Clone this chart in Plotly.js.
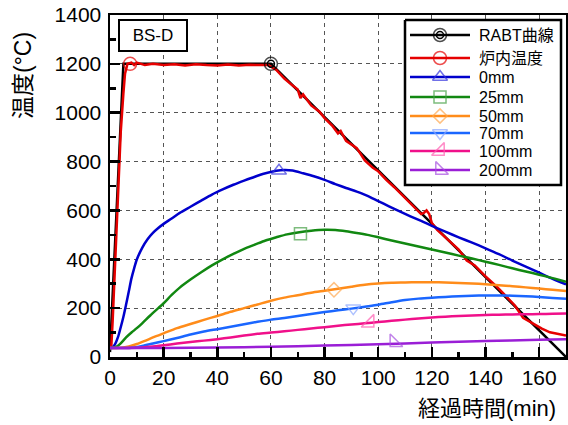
<!DOCTYPE html>
<html><head><meta charset="utf-8">
<script src="https://cdn.plot.ly/plotly-3.0.1.min.js"></script>
<style>html,body{margin:0;padding:0;background:#fff}#chart{width:568px;height:425px}</style>
</head><body><div id="chart"></div>
<script>
// ---- data ----
const seriesNames = ["RABT曲線", "炉内温度", "0mm", "25mm", "50mm", "70mm", "100mm", "200mm"];
const colors = ["#000000", "#e60000", "#0000cc", "#118811", "#ff8c1a", "#1a66ff", "#f0108a", "#9a1ed6"];
const markerColors = ["#000000", "#e60000", "#3333dd", "#46a046", "#ffa64d", "#8aa6ff", "#ff5cb0", "#a64ee0"];
const symbols = ["circle-open", "circle-open", "triangle-up-open", "square-open", "diamond-open", "triangle-down-open", "triangle-se-open", "triangle-sw-open"];

const tRABT = [0, 5, 60, 170];
const vRABT = [20, 1200, 1200, 0];

const tFurnace = [0, 0.5, 1, 2, 3, 4, 5, 5.6, 6.5, 8, 9, 10, 13, 16, 20, 24, 28, 32, 36, 40, 44, 48, 52, 56, 59, 62, 65, 68, 70, 71, 72, 75, 78, 80, 83, 85, 86, 88, 90, 92, 95, 98, 100, 103, 106, 110, 113, 116, 117, 118, 119, 120, 122, 125, 128, 130, 133, 136, 140, 144, 148, 151, 154, 157, 159, 161, 164, 167, 170];
const vFurnace = [38, 45, 150, 420, 700, 920, 1080, 1160, 1200, 1205, 1195, 1205, 1195, 1200, 1195, 1198, 1193, 1198, 1195, 1193, 1197, 1193, 1196, 1195, 1195, 1175, 1140, 1112, 1095, 1060, 1075, 1030, 1005, 978, 945, 915, 925, 885, 870, 855, 805, 775, 760, 725, 695, 650, 615, 585, 590, 600, 585, 548, 520, 490, 462, 440, 395, 375, 330, 290, 245, 210, 160, 140, 126, 116, 101, 94, 88];

const t0mm = [0, 1, 2, 3, 4, 5, 6, 7, 8, 9, 10, 12, 14, 16, 18, 20, 23, 26, 30, 34, 38, 42, 46, 50, 54, 58, 62, 65, 68, 72, 76, 80, 84, 88, 92, 96, 100, 104, 108, 112, 116, 120, 125, 130, 135, 140, 145, 150, 155, 160, 165, 170];
const v0mm = [37, 40, 55, 82, 122, 165, 215, 268, 322, 363, 399, 447, 482, 508, 528, 545, 567, 590, 615, 640, 665, 686, 705, 722, 738, 752, 762, 765, 763, 752, 740, 725, 708, 692, 677, 660, 638, 617, 596, 576, 557, 537, 513, 490, 468, 445, 421, 395, 370, 345, 320, 297];

const t25mm = [0, 2, 3, 4, 6, 8, 10, 12, 15, 18, 20, 23, 26, 30, 34, 38, 42, 46, 50, 54, 58, 62, 66, 70, 75, 80, 84, 88, 92, 96, 100, 105, 110, 115, 120, 125, 130, 135, 140, 145, 150, 155, 160, 165, 170];
const v25mm = [37, 40, 46, 56, 80, 100, 118, 138, 170, 200, 220, 254, 284, 317, 347, 375, 400, 422, 443, 460, 477, 490, 502, 510, 517, 521, 520, 515, 508, 500, 490, 477, 465, 452, 440, 428, 415, 403, 390, 377, 363, 350, 337, 323, 308];

const t50mm = [0, 4, 7, 10, 13, 16, 20, 25, 30, 35, 40, 45, 50, 55, 60, 65, 70, 75, 80, 85, 90, 95, 100, 105, 110, 115, 120, 125, 130, 135, 140, 145, 150, 155, 160, 165, 170];
const v50mm = [37, 38, 43, 53, 66, 80, 97, 118, 135, 152, 168, 185, 200, 215, 230, 243, 253, 263, 271, 279, 288, 296, 301, 304, 305, 306, 306, 305, 303, 301, 298, 294, 290, 285, 280, 275, 270];

const t70mm = [0, 8, 12, 16, 20, 25, 30, 35, 40, 45, 50, 55, 60, 65, 70, 75, 80, 85, 90, 95, 100, 105, 110, 115, 120, 125, 130, 135, 140, 145, 150, 155, 160, 165, 170];
const v70mm = [37, 38, 45, 55, 65, 78, 92, 104, 114, 124, 134, 144, 153, 160, 168, 176, 184, 191, 198, 206, 214, 224, 233, 239, 243, 246, 249, 251, 252, 252, 251, 249, 246, 242, 238];

const t100mm = [0, 10, 15, 20, 25, 30, 35, 40, 45, 50, 55, 60, 65, 70, 75, 80, 85, 90, 95, 100, 105, 110, 115, 120, 125, 130, 135, 140, 145, 150, 155, 160, 165, 170];
const v100mm = [37, 38, 42, 48, 55, 61, 67, 73, 80, 88, 95, 100, 105, 111, 117, 122, 128, 133, 138, 143, 148, 153, 158, 162, 165, 168, 170, 172, 173, 174, 175, 176, 177, 178];

const t200mm = [0, 20, 40, 60, 80, 100, 120, 140, 160, 170];
const v200mm = [37, 37, 39, 42, 47, 52, 59, 65, 71, 73];

// one marker per series
const markerT = [60, 7.5, 63, 71, 83.5, 90.7, 96.8, 106];
const markerV = [1200, 1200, 762, 505, 275, 200, 140, 60];
const markerSizes = [13, 13, 13, 12, 11, 13, 14, 14];

const xTickVals = [0, 20, 40, 60, 80, 100, 120, 140, 160];
const yTickVals = [0, 200, 400, 600, 800, 1000, 1200, 1400];

// ---- layout constants (page pixels) ----
const plotL = 110, plotR = 566, plotT = 15, plotB = 357;
const legBox = {x0: 405, x1: 561, y0: 20, y1: 185};
const legRows = [35, 58, 77, 97, 116, 133, 151, 170];
const legLineX = [410, 470], legMarkX = 440, legTextX = 477;

// ---- traces ----
const lineT = [tRABT, tFurnace, t0mm, t25mm, t50mm, t70mm, t100mm, t200mm];
const lineV = [vRABT, vFurnace, v0mm, v25mm, v50mm, v70mm, v100mm, v200mm];
const traces = [];
for (let i = 0; i < seriesNames.length; i++) {
  const smooth = i >= 2;
  traces.push({
    x: lineT[i], y: lineV[i], mode: "lines", type: "scatter", name: seriesNames[i],
    line: smooth ? {color: colors[i], width: 2.5, shape: "spline", smoothing: 0.8} : {color: colors[i], width: 2.5},
    hoverinfo: "skip"
  });
}
traces.push({
  x: markerT, y: markerV, mode: "markers", type: "scatter",
  marker: {symbol: symbols, size: markerSizes, color: markerColors, line: {width: 1.5, color: markerColors}}
});
// inner ring of the RABT double-circle marker
traces.push({
  x: [markerT[0]], y: [markerV[0]], mode: "markers", type: "scatter",
  marker: {symbol: "circle-open", size: 7, color: markerColors[0], line: {width: 1.5, color: markerColors[0]}}
});

// ---- legend drawn on an invisible pixel-space overlay ----
traces.push({
  x: [legBox.x0, legBox.x1, legBox.x1, legBox.x0, legBox.x0],
  y: [legBox.y0, legBox.y0, legBox.y1, legBox.y1, legBox.y0],
  xaxis: "x2", yaxis: "y2", mode: "lines", fill: "toself", fillcolor: "#fff",
  line: {color: "#000", width: 2.5}, hoverinfo: "skip"
});
for (let i = 0; i < seriesNames.length; i++) {
  traces.push({
    x: legLineX, y: [legRows[i], legRows[i]], xaxis: "x2", yaxis: "y2", mode: "lines",
    line: {color: colors[i], width: 2.5}, hoverinfo: "skip"
  });
}
traces.push({
  x: legRows.map(() => legMarkX), y: legRows, xaxis: "x2", yaxis: "y2", mode: "markers",
  marker: {symbol: symbols, size: markerSizes, color: markerColors, line: {width: 1.5, color: markerColors}}
});
traces.push({
  x: [legMarkX], y: [legRows[0]], xaxis: "x2", yaxis: "y2", mode: "markers",
  marker: {symbol: "circle-open", size: 7, color: markerColors[0], line: {width: 1.5, color: markerColors[0]}}
});

const fontFam = "Liberation Sans, Arial, Noto Sans CJK JP, sans-serif";
const axisCommon = {
  showline: true, linecolor: "#000", linewidth: 2.5, mirror: true,
  ticks: "inside", tickcolor: "#000", tickwidth: 2.5, ticklen: 10,
  showgrid: true, gridcolor: "#555", gridwidth: 1, griddash: "4px,4px",
  zeroline: false, tickfont: {family: fontFam, size: 21, color: "#000"}
};

const legendAnnotations = seriesNames.map((n, i) => ({
  xref: "x2", yref: "y2", x: legTextX, y: legRows[i], xanchor: "left", yanchor: "middle",
  text: n, showarrow: false, font: {family: fontFam, size: 16, color: "#000"}
}));

const px2paperX = p => (p - plotL) / (plotR - plotL);
const px2paperY = p => (plotB - p) / (plotB - plotT);

const layout = {
  width: 568, height: 425,
  margin: {l: plotL, r: 568 - plotR, t: plotT, b: 425 - plotB},
  paper_bgcolor: "#fff", plot_bgcolor: "#fff",
  showlegend: false,
  xaxis: Object.assign({}, axisCommon, {
    range: [0, 170], tickmode: "array", tickvals: xTickVals,
    minor: {dtick: 10, ticks: "inside", ticklen: 5, tickwidth: 2.5, tickcolor: "#000", showgrid: false}
  }),
  yaxis: Object.assign({}, axisCommon, {
    range: [0, 1400], tickmode: "array", tickvals: yTickVals, ticklabelstandoff: 2,
    minor: {dtick: 100, ticks: "inside", ticklen: 6, tickwidth: 2.5, tickcolor: "#000", showgrid: false}
  }),
  xaxis2: {overlaying: "x", anchor: "y2", range: [plotL, plotR], visible: false, fixedrange: true},
  yaxis2: {overlaying: "y", anchor: "x2", range: [plotB, plotT], visible: false, fixedrange: true},
  annotations: [
    {xref: "paper", yref: "paper", x: px2paperX(153), y: px2paperY(36), xanchor: "center", yanchor: "middle",
     text: "BS-D", showarrow: false, font: {family: fontFam, size: 17, color: "#000"},
     bordercolor: "#000", borderwidth: 2, borderpad: 5, bgcolor: "#fff", width: 56},
    {xref: "paper", yref: "paper", x: px2paperX(23), y: px2paperY(76), xanchor: "center", yanchor: "middle",
     text: "温度(°C)", textangle: -90, showarrow: false, font: {family: fontFam, size: 23, color: "#000"}},
    {xref: "paper", yref: "paper", x: px2paperX(558), y: px2paperY(409), xanchor: "right", yanchor: "middle",
     text: "経過時間(min)", showarrow: false, font: {family: fontFam, size: 22, color: "#000"}}
  ].concat(legendAnnotations)
};

Plotly.newPlot("chart", traces, layout, {displayModeBar: false, staticPlot: true});
</script>
</body></html>
